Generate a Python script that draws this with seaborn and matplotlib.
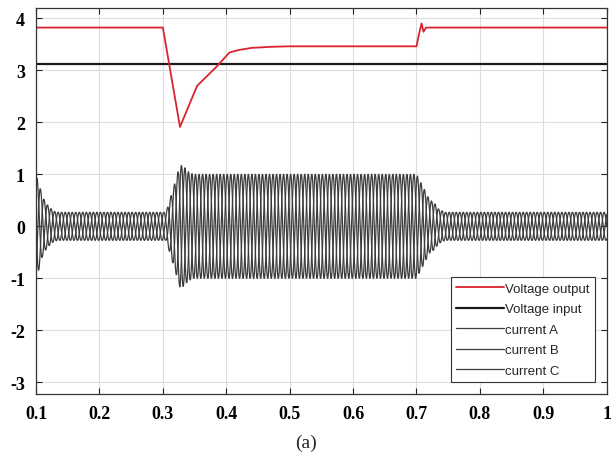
import matplotlib
matplotlib.use("Agg")
import matplotlib.pyplot as plt
import seaborn as sns
import numpy as np
import pandas as pd

# voltage output (red)
vo_t = [0.1, 0.3, 0.327, 0.354, 0.384, 0.405, 0.42, 0.44, 0.47, 0.5, 0.6, 0.7,
        0.704, 0.708, 0.711, 0.715, 1.0]
vo_v = [3.82, 3.82, 1.91, 2.70, 3.06, 3.34, 3.39, 3.43, 3.45, 3.46, 3.46, 3.46,
        3.70, 3.90, 3.74, 3.82, 3.82]

# voltage input (black)
vi_t = [0.1, 1.0]
vi_v = [3.12, 3.12]

# current envelope (peak amplitude of the three phases)
env_t = [0.1, 0.104, 0.11, 0.115, 0.12, 0.128, 0.135, 0.305, 0.318, 0.327,
         0.333, 0.34, 0.348, 0.7, 0.712, 0.72, 0.728, 0.735, 0.745, 1.0]
env_a = [0.97, 0.85, 0.58, 0.46, 0.38, 0.29, 0.27, 0.27, 0.8, 1.18,
         1.15, 1.05, 1.0, 1.0, 0.72, 0.52, 0.45, 0.33, 0.27, 0.27]
freq = 60.0
phase_names = ["current A", "current B", "current C"]

series_labels = ["Voltage output", "Voltage input"] + phase_names

sns.set_theme(style="ticks")
plt.rcParams["font.family"] = ["Liberation Serif", "DejaVu Serif"]
plt.rcParams["axes.unicode_minus"] = False

fig, ax = plt.subplots(figsize=(6.11, 4.64), dpi=100)
fig.subplots_adjust(left=0.059, right=0.993, bottom=0.149, top=0.981)

t = np.linspace(0.1, 1.0, 20001)
env = np.interp(t, env_t, env_a)
for k, name in enumerate(phase_names):
    i = env * np.cos(2 * np.pi * freq * (t - 0.1015) - 2 * np.pi * k / 3)
    sns.lineplot(x=t, y=i, ax=ax, color="#3c3c3c", lw=0.9, label=name,
                 estimator=None, sort=False)

sns.lineplot(x=vi_t, y=vi_v, ax=ax, color="#1a1a1a", lw=1.6,
             label="Voltage input", estimator=None, sort=False)
sns.lineplot(x=vo_t, y=vo_v, ax=ax, color="#d9232e", lw=1.3,
             label="Voltage output", estimator=None, sort=False)

ax.set_xlim(0.1, 1.0)
ax.set_ylim(-3.22, 4.2)
ax.set_xticks(np.arange(0.1, 1.01, 0.1))
ax.set_xticklabels(["0.1", "0.2", "0.3", "0.4", "0.5", "0.6", "0.7", "0.8", "0.9", "1"])
ax.set_yticks(range(-3, 5))
ax.grid(True, color="#dddddd", lw=0.8)
ax.set_axisbelow(True)
ax.tick_params(direction="in", top=True, right=True, length=4, width=0.8,
               labelsize=13, pad=8, colors="#222222")
for lab in ax.get_xticklabels() + ax.get_yticklabels():
    lab.set_fontweight("bold")
    lab.set_color("black")
for s in ax.spines.values():
    s.set_color("#333333")
    s.set_linewidth(0.9)
ax.set_xlabel("")
ax.set_ylabel("")

handles, labels = ax.get_legend_handles_labels()
order = [labels.index(n) for n in series_labels]
leg = ax.legend([handles[j] for j in order], [labels[j] for j in order],
                loc="lower right", bbox_to_anchor=(0.979, 0.031),
                borderaxespad=0, fancybox=False, framealpha=1,
                edgecolor="#333333", handlelength=3.6, handletextpad=0.1,
                labelspacing=0.62, borderpad=0.4,
                prop={"family": "Liberation Sans", "size": 9.5})
leg.get_frame().set_linewidth(0.8)

fig.text(0.5, 0.045, "(a)", ha="center", va="center", fontsize=14)

fig.savefig("out.png", dpi=100)
